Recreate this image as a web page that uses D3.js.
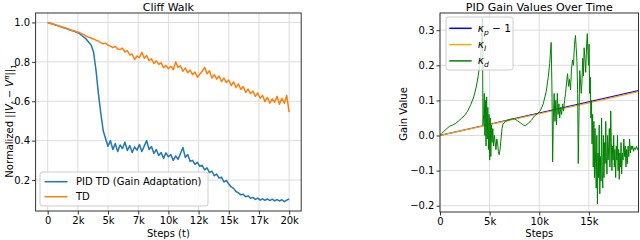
<!DOCTYPE html>
<html lang="en">
<head>
<meta charset="UTF-8">
<title>Cliff Walk / PID Gains</title>
<style>
    body { margin: 0; background: #fff; }
    svg text { font-family: "DejaVu Sans", sans-serif; fill: #000; }
</style>
</head>
<body>
<script src="https://d3js.org/d3.v7.min.js"></script>
<script>
    // ---- left panel data (one value every 200 steps, 0..20000) ----
    var cliffStep = 200;
    var pidTD = [1.000, 0.996, 0.992, 0.988, 0.984, 0.980, 0.976, 0.972, 0.968, 0.963,
        0.959, 0.955, 0.950, 0.945, 0.935, 0.925, 0.915, 0.900, 0.885, 0.850,
        0.760, 0.640, 0.540, 0.450, 0.410, 0.372, 0.400, 0.355, 0.385, 0.345,
        0.378, 0.360, 0.392, 0.350, 0.375, 0.340, 0.368, 0.352, 0.380, 0.345,
        0.372, 0.400, 0.355, 0.370, 0.335, 0.355, 0.325, 0.340, 0.310, 0.338,
        0.318, 0.330, 0.300, 0.322, 0.305, 0.335, 0.365, 0.315, 0.330, 0.295,
        0.300, 0.280, 0.290, 0.270, 0.275, 0.252, 0.262, 0.238, 0.245, 0.222,
        0.230, 0.210, 0.215, 0.190, 0.198, 0.180, 0.165, 0.158, 0.142, 0.135,
        0.125, 0.128, 0.115, 0.120, 0.108, 0.112, 0.102, 0.108, 0.098, 0.105,
        0.097, 0.104, 0.096, 0.103, 0.095, 0.101, 0.094, 0.100, 0.090, 0.098, 0.104];
    var plainTD = [1.000, 0.996, 0.992, 0.988, 0.985, 0.981, 0.977, 0.973, 0.969, 0.965,
        0.960, 0.957, 0.952, 0.950, 0.943, 0.938, 0.930, 0.925, 0.921, 0.916,
        0.910, 0.905, 0.898, 0.892, 0.895, 0.884, 0.880, 0.872, 0.878, 0.865,
        0.862, 0.870, 0.850, 0.857, 0.835, 0.840, 0.812, 0.830, 0.822, 0.848,
        0.818, 0.832, 0.806, 0.815, 0.792, 0.805, 0.788, 0.795, 0.770, 0.782,
        0.765, 0.778, 0.760, 0.800, 0.772, 0.780, 0.752, 0.768, 0.745, 0.758,
        0.735, 0.748, 0.722, 0.738, 0.752, 0.772, 0.740, 0.755, 0.718, 0.735,
        0.712, 0.728, 0.700, 0.718, 0.695, 0.708, 0.680, 0.698, 0.670, 0.688,
        0.660, 0.675, 0.645, 0.662, 0.638, 0.652, 0.625, 0.642, 0.615, 0.630,
        0.598, 0.620, 0.590, 0.612, 0.595, 0.625, 0.585, 0.615, 0.590, 0.630, 0.545];
    var cliffLabels = ["PID TD (Gain Adaptation)", "TD"];
    var cliffColors = ["#1f77b4", "#ff7f0e"];
    var cliffXTicks = [0, 2500, 5000, 7500, 10000, 12500, 15000, 17500, 20000];
    var cliffYTicks = [0.2, 0.4, 0.6, 0.8, 1.0];

    // ---- right panel data ----
    var gainSteps = [0, 5000, 10000, 15000, 19999];
    var kpMinus1 = [0, 0.032, 0.064, 0.096, 0.128];
    var kI = [0, 0.031, 0.062, 0.093, 0.125];
    var kdSteps = [0, 150, 400, 700, 1000, 1300, 1600, 1900, 2200, 2500, 2800, 3100, 3400, 3650, 3850, 4000, 4100, 4200, 4270,
        4330, 4400, 4460, 4520, 4580, 4640, 4700, 4760, 4820, 4880, 4940, 5000, 5060, 5120, 5180, 5250, 5320, 5400,
        5480, 5560, 5640, 5720, 5800, 5880, 5960, 6050, 6150, 6250, 6350, 6600, 6850, 7100, 7500, 7800, 8100, 8400,
        8600, 8900, 9200, 9500, 9800, 10100, 10400, 10700, 10900, 11050, 11200, 11280, 11350, 11420, 11500, 11580,
        11660, 11740, 11820, 11900, 11980, 12060, 12150, 12250, 12350, 12450, 12550, 12650, 12750, 12850, 12950,
        13050, 13150, 13250, 13350, 13450, 13550, 13650, 13720, 13800, 13870, 13930, 14000, 14080, 14150, 14230,
        14300, 14380, 14450, 14520, 14600, 14680, 14760, 14840, 14900, 14960, 15020, 15080, 15140, 15200, 15260,
        15320, 15380, 15440, 15500, 15560, 15620, 15680, 15740, 15800, 15860, 15920, 15980, 16040, 16100, 16160,
        16220, 16280, 16340, 16400, 16460, 16520, 16580, 16640, 16700, 16760, 16820, 16880, 16940, 17000, 17060,
        17120, 17200, 17260, 17320, 17380, 17440, 17500, 17560, 17620, 17700, 17760, 17820, 17880, 17940, 18000,
        18060, 18120, 18180, 18240, 18300, 18380, 18440, 18520, 18600, 18660, 18740, 18800, 18880, 18950, 19020,
        19100, 19180, 19260, 19340, 19420, 19500, 19600, 19700, 19800, 19900, 19999];
    var kd = [0.0, 0.005, 0.012, 0.02, 0.027, 0.03, 0.035, 0.042, 0.05, 0.058, 0.07, 0.088, 0.11, 0.138, 0.17, 0.2, 0.23, 0.28, 0.335,
        0.03, 0.06, 0.12, 0.0, 0.1, -0.03, 0.11, -0.01, 0.08, -0.04, 0.06, -0.07, 0.05, -0.06, 0.03, -0.02, 0.02, -0.03,
        0.0, -0.02, -0.04, -0.01, -0.02, -0.045, -0.055, -0.04, -0.01, 0.02, 0.033, 0.04, 0.043, 0.046, 0.048, 0.042, 0.036, 0.03,
        0.028, 0.035, 0.043, 0.055, 0.062, 0.07, 0.09, 0.125, 0.165, 0.205, 0.265, 0.13, -0.075, 0.05, 0.12, 0.04,
        0.1, 0.03, 0.12, 0.06, 0.09, 0.05, 0.08, 0.06, 0.09, 0.07, 0.1, 0.12, 0.15, 0.176, 0.14,
        0.16, 0.13, 0.19, 0.215, 0.2, 0.26, 0.285, 0.25, 0.21, 0.12, -0.08, 0.05, 0.185, 0.16, 0.12,
        0.15, 0.22, 0.17, 0.25, 0.22, 0.18, 0.252, 0.29, 0.24, 0.2, 0.26, 0.12, 0.166, 0.05, 0.1,
        -0.024, 0.06, -0.09, 0.04, -0.12, 0.02, -0.08, -0.15, 0.0, -0.195, -0.05, -0.12, 0.03, -0.166, -0.06,
        -0.13, 0.05, -0.1, -0.15, 0.0, -0.12, -0.02, -0.08, 0.04, -0.06, -0.11, 0.0, -0.07, -0.03, 0.02,
        -0.09, 0.07, -0.02, -0.1, -0.03, -0.07, 0.0, -0.09, -0.04, -0.12, -0.03, -0.07, 0.0, -0.1, -0.04,
        -0.125, -0.05, -0.09, -0.02, -0.11, -0.05, -0.07, -0.01, -0.06, -0.03, -0.09, -0.04, -0.08, -0.03, -0.06,
        -0.01, -0.05, -0.03, -0.04, -0.03, -0.045, -0.035, -0.04, -0.03, -0.04, -0.035];
    var gainColors = ["blue", "orange", "green"];
    var gainXTicks = [0, 5000, 10000, 15000];
    var gainYTicks = [-0.2, -0.1, 0.0, 0.1, 0.2, 0.3];

    var svg = d3.select("body").append("svg")
        .attr("width", 640)
        .attr("height", 240);

    var kFmt = function (d) { return d === 0 ? "0" : Math.floor(d / 1000) + "k"; };

    function panel(x, y, xTicks, yTicks, yFmt, id) {
        var g = svg.append("g");
        var x0 = x.range()[0], x1 = x.range()[1], yb = y.range()[0], yt = y.range()[1];
        svg.append("clipPath").attr("id", id).append("rect")
            .attr("x", x0).attr("y", yt).attr("width", x1 - x0).attr("height", yb - yt);
        // grid
        g.selectAll(".gx").data(xTicks).enter().append("line")
            .attr("x1", d => x(d)).attr("x2", d => x(d)).attr("y1", yt).attr("y2", yb)
            .attr("stroke", "#dcdcdc").attr("stroke-width", 1);
        g.selectAll(".gy").data(yTicks).enter().append("line")
            .attr("y1", d => y(d)).attr("y2", d => y(d)).attr("x1", x0).attr("x2", x1)
            .attr("stroke", "#dcdcdc").attr("stroke-width", 1);
        var ax = g.append("g").attr("transform", "translate(0," + yb + ")")
            .call(d3.axisBottom(x).tickValues(xTicks).tickFormat(kFmt).tickSize(3.5).tickPadding(2));
        var ay = g.append("g").attr("transform", "translate(" + x0 + ",0)")
            .call(d3.axisLeft(y).tickValues(yTicks).tickFormat(yFmt).tickSize(3.5).tickPadding(2));
        [ax, ay].forEach(function (a) {
            a.select(".domain").remove();
            a.selectAll("text").style("font-family", "DejaVu Sans").style("font-size", "10px");
            a.selectAll("line").attr("stroke", "#333");
        });
        return g;
    }

    function frame(x, y) {
        svg.append("rect")
            .attr("x", x.range()[0]).attr("y", y.range()[1])
            .attr("width", x.range()[1] - x.range()[0]).attr("height", y.range()[0] - y.range()[1])
            .attr("fill", "none").attr("stroke", "#333").attr("stroke-width", 1);
    }

    // ---------------- Cliff Walk ----------------
    var xa = d3.scaleLinear().domain([-1000, 21000]).range([35.6, 301.2]);
    var ya = d3.scaleLinear().domain([0.043, 1.048]).range([211, 13]);
    panel(xa, ya, cliffXTicks, cliffYTicks, d3.format(".1f"), "clipA");

    var lineA = d3.line().x((d, i) => xa(i * cliffStep)).y(d => ya(d));
    [pidTD, plainTD].forEach(function (s, k) {
        svg.append("path").datum(s)
            .attr("d", lineA).attr("fill", "none")
            .attr("stroke", cliffColors[k]).attr("stroke-width", 1.5)
            .attr("stroke-linejoin", "round")
            .attr("clip-path", "url(#clipA)");
    });
    frame(xa, ya);

    svg.append("text").attr("x", 168.4).attr("y", 10.5).attr("text-anchor", "middle")
        .style("font-size", "11px").text("Cliff Walk");
    svg.append("text").attr("x", 168.4).attr("y", 237).attr("text-anchor", "middle")
        .style("font-size", "10px").text("Steps (t)");

    var yl = svg.append("text").attr("transform", "translate(13,121) rotate(-90)")
        .attr("text-anchor", "middle").style("font-size", "10px");
    yl.append("tspan").text("Normalized ||");
    yl.append("tspan").style("font-style", "italic").text("V");
    yl.append("tspan").attr("dy", 2.5).style("font-size", "7px").style("font-style", "italic").text("t");
    yl.append("tspan").attr("dy", -2.5).text(" − ");
    yl.append("tspan").style("font-style", "italic").text("V");
    yl.append("tspan").attr("dy", -4).style("font-size", "7px").style("font-style", "italic").text("π");
    yl.append("tspan").attr("dy", 4).text("||");
    yl.append("tspan").attr("dy", 2.5).style("font-size", "7px").text("1");

    var legA = svg.append("g").attr("transform", "translate(40,172)");
    legA.append("rect").attr("width", 168).attr("height", 34).attr("rx", 2.5)
        .attr("fill", "white").attr("fill-opacity", 0.8).attr("stroke", "#cccccc");
    cliffLabels.forEach(function (t, i) {
        legA.append("line").attr("x1", 4.5).attr("x2", 27.5)
            .attr("y1", 9.7 + i * 15).attr("y2", 9.7 + i * 15)
            .attr("stroke", cliffColors[i]).attr("stroke-width", 1.5);
        legA.append("text").attr("x", 36).attr("y", 13.3 + i * 15)
            .style("font-size", "10px").text(t);
    });

    // ---------------- PID gains ----------------
    var xb = d3.scaleLinear().domain([0, 19999]).range([440, 638.5]);
    var yb = d3.scaleLinear().domain([-0.218, 0.349]).range([212, 13]);
    panel(xb, yb, gainXTicks, gainYTicks, d3.format(".1f"), "clipB");

    var lineB = d3.line().x(d => xb(d[0])).y(d => yb(d[1]));
    [kpMinus1, kI].forEach(function (s, k) {
        svg.append("path").datum(gainSteps.map((st, i) => [st, s[i]]))
            .attr("d", lineB).attr("fill", "none")
            .attr("stroke", gainColors[k]).attr("stroke-width", 1.2)
            .attr("clip-path", "url(#clipB)");
    });
    svg.append("path").datum(kdSteps.map((st, i) => [st, kd[i]]))
        .attr("d", lineB).attr("fill", "none")
        .attr("stroke", gainColors[2]).attr("stroke-width", 1)
        .attr("stroke-linejoin", "round")
        .attr("clip-path", "url(#clipB)");
    frame(xb, yb);

    svg.append("text").attr("x", 539.3).attr("y", 10.5).attr("text-anchor", "middle")
        .style("font-size", "11px").text("PID Gain Values Over Time");
    svg.append("text").attr("x", 539.3).attr("y", 237).attr("text-anchor", "middle")
        .style("font-size", "10px").text("Steps");
    svg.append("text").attr("transform", "translate(407,114) rotate(-90)")
        .attr("text-anchor", "middle").style("font-size", "10px").text("Gain Value");

    var legB = svg.append("g").attr("transform", "translate(446,17)");
    legB.append("rect").attr("width", 67).attr("height", 53).attr("rx", 2.5)
        .attr("fill", "white").attr("fill-opacity", 0.8).attr("stroke", "#cccccc");
    var gainSubs = ["p", "I", "d"];
    gainSubs.forEach(function (s, i) {
        var cy = 11.3 + i * 16.3;
        legB.append("line").attr("x1", 3.3).attr("x2", 25.7).attr("y1", cy).attr("y2", cy)
            .attr("stroke", gainColors[i]).attr("stroke-width", 1.5);
        var t = legB.append("text").attr("x", 31.7).attr("y", cy + 3.5).style("font-size", "10.5px");
        t.append("tspan").style("font-style", "italic").text("κ");
        t.append("tspan").attr("dy", 3).style("font-size", "7.5px").style("font-style", "italic").text(s);
        if (i === 0) {
            t.append("tspan").attr("dy", -3).text(" − 1");
        }
    });
</script>
</body>
</html>
